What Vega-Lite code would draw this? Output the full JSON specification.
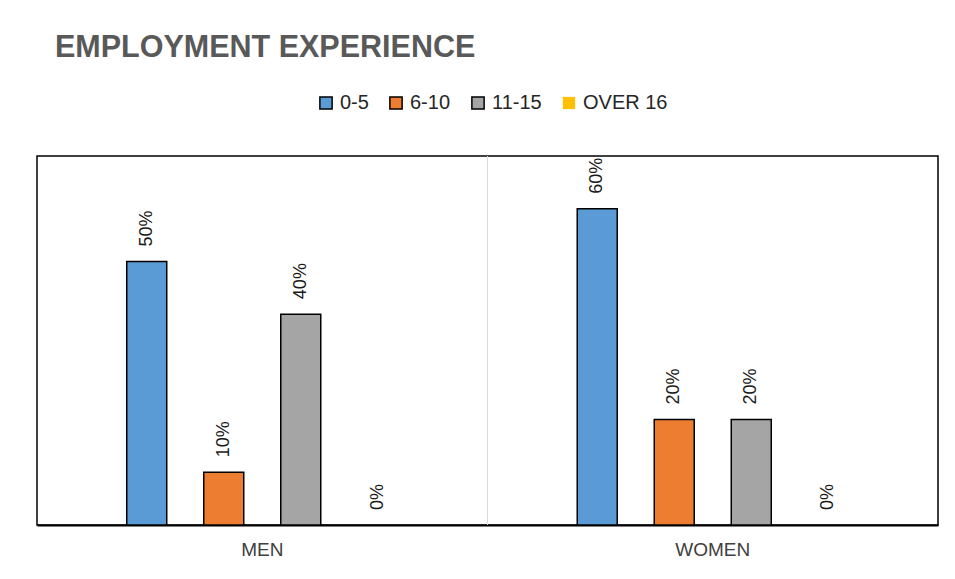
{
  "$schema": "https://vega.github.io/schema/vega-lite/v6.json",
  "width": 901,
  "height": 369,
  "autosize": {"type": "none"},
  "padding": {"left": 37, "top": 156, "right": 17, "bottom": 54},
  "background": "white",
  "title": {
    "text": "EMPLOYMENT EXPERIENCE",
    "anchor": "start",
    "frame": "group",
    "dx": 18,
    "offset": 30,
    "font": "Liberation Sans",
    "fontSize": 30.5,
    "fontWeight": "bold",
    "color": "#595959"
  },
  "config": {
    "view": {"stroke": "black", "strokeWidth": 1.5},
    "font": "Liberation Sans"
  },
  "data": {
    "values": [
      {"gender": "MEN", "group": "0-5", "value": 0.5},
      {"gender": "MEN", "group": "6-10", "value": 0.1},
      {"gender": "MEN", "group": "11-15", "value": 0.4},
      {"gender": "MEN", "group": "OVER 16", "value": 0.0},
      {"gender": "WOMEN", "group": "0-5", "value": 0.6},
      {"gender": "WOMEN", "group": "6-10", "value": 0.2},
      {"gender": "WOMEN", "group": "11-15", "value": 0.2},
      {"gender": "WOMEN", "group": "OVER 16", "value": 0.0}
    ]
  },
  "encoding": {
    "x": {
      "field": "gender",
      "type": "nominal",
      "scale": {"paddingInner": 0, "paddingOuter": 0},
      "axis": {
        "title": null,
        "labelAngle": 0,
        "ticks": false,
        "domainColor": "black",
        "domainWidth": 2,
        "labelFont": "Liberation Sans",
        "labelFontSize": 19,
        "labelColor": "#404040",
        "labelPadding": 15
      }
    }
  },
  "layer": [
    {
      "mark": {"type": "rule", "color": "#d9d9d9", "strokeWidth": 1},
      "encoding": {
        "x": {"datum": "WOMEN", "type": "nominal", "bandPosition": 0}
      }
    },
    {
      "mark": {"type": "bar", "stroke": "black", "strokeWidth": 1.5, "width": 40},
      "encoding": {
        "xOffset": {
          "field": "group",
          "type": "nominal",
          "sort": ["0-5", "6-10", "11-15", "OVER 16"],
          "scale": {"paddingInner": 0.15, "paddingOuter": 1}
        },
        "y": {
          "field": "value",
          "type": "quantitative",
          "scale": {"domain": [0, 0.7], "nice": false},
          "axis": null
        },
        "strokeOpacity": {
          "condition": {"test": "datum.value === 0", "value": 0},
          "value": 1
        },
        "color": {
          "field": "group",
          "type": "nominal",
          "sort": ["0-5", "6-10", "11-15", "OVER 16"],
          "scale": {
            "domain": ["0-5", "6-10", "11-15", "OVER 16"],
            "range": ["#5B9BD5", "#ED7D31", "#A5A5A5", "#FFC000"]
          },
          "legend": {
            "title": null,
            "orient": "none",
            "direction": "horizontal",
            "legendX": 279,
            "legendY": -63,
            "padding": 0,
            "symbolType": "square",
            "symbolSize": 150,
            "symbolStrokeWidth": 1.5,
            "symbolStrokeColor": "black",
            "labelFontSize": 20,
            "labelColor": "#262626",
            "labelOffset": 4,
            "columnPadding": 17,
            "encode": {
              "symbols": {
                "update": {
                  "stroke": {"value": "black"},
                  "strokeOpacity": {"signal": "datum.value === 'OVER 16' ? 0 : 1"}
                }
              }
            }
          }
        }
      }
    },
    {
      "mark": {
        "type": "text",
        "angle": 270,
        "align": "left",
        "baseline": "middle",
        "dx": 15,
        "fontSize": 18,
        "color": "#1a1a1a"
      },
      "encoding": {
        "xOffset": {
          "field": "group",
          "type": "nominal",
          "sort": ["0-5", "6-10", "11-15", "OVER 16"]
        },
        "y": {"field": "value", "type": "quantitative"},
        "text": {"field": "value", "type": "quantitative", "format": ".0%"}
      }
    }
  ]
}
